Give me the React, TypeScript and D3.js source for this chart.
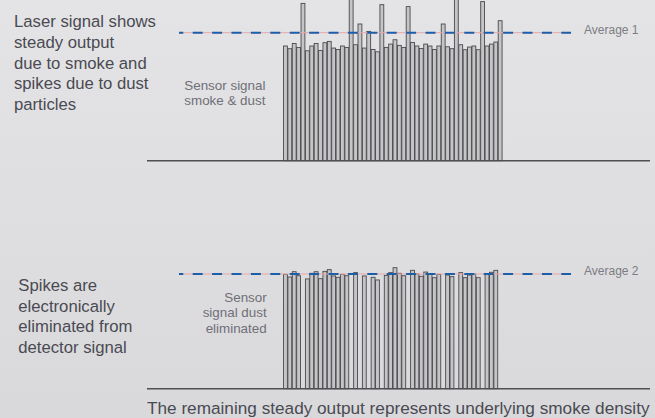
import React from "react";
import * as d3 from "d3";

// Top chart: raw sensor signal (smoke & dust), relative units (Average 1 = 100)
const topValues: number[] = [
  89.6, 87.5, 91.6, 88.5, 122.9, 85.9, 89.6, 91.6, 86.1, 92.2,
  93.2, 88.0, 86.9, 89.6, 88.5, 135, 90.6, 106.8, 88.0, 101,
  86.9, 85.1, 121.9, 88.5, 91.1, 94.5, 90.1, 88.5, 120.4, 92.4,
  89.6, 87.7, 91.1, 89.6, 86.9, 89.6, 106.8, 89.0, 87.5, 135,
  90.6, 86.7, 88.8, 89.6, 86.7, 124.3, 89.6, 91.1, 92.7, 109.4,
];

// Bottom chart: dust eliminated (null = spike removed), relative units (Average 2 = 100)
const bottomValues: (number | null)[] = [
  99.7, 97.4, 102, 98.5, null, 95.7, 100.6, 102, 95.9, 102.3,
  103.8, 98.3, 97.1, 99.7, 98.5, null, 101.2, null, 98.3, null,
  97.1, 94.8, null, 98.8, 101.2, 105.5, 100.6, 98.5, null, 103.2,
  100, 98, 101.7, 100.3, 96.8, 99.7, null, 99.1, 97.7, null,
  101.2, 96.8, 99.1, 100, 96.8, null, 100, 101.5, 103.2, null,
];

const averageLabels = ["Average 1", "Average 2"];
const topLeftText = ["Laser signal shows", "steady output", "due to smoke and", "spikes due to dust", "particles"];
const bottomLeftText = ["Spikes are", "electronically", "eliminated from", "detector signal"];
const topSensorLabel = ["Sensor signal", "smoke & dust"];
const bottomSensorLabel = ["Sensor", "signal dust", "eliminated"];
const caption = "The remaining steady output represents underlying smoke density";

const W = 655;
const H = 418;
const FONT = "'Liberation Sans', Arial, Helvetica, sans-serif";

export default function App() {
  const x = d3
    .scaleBand<number>()
    .domain(d3.range(topValues.length))
    .range([283.3, 502.3])
    .paddingInner(0.12)
    .paddingOuter(0.05);

  const yTop = d3.scaleLinear().domain([0, 100]).range([160.7, 32.7]);
  const yBot = d3.scaleLinear().domain([0, 100]).range([388.7, 274]);

  const axisX0 = 147;
  const axisX1 = 650;
  const lineX0 = 179;
  const lineX1 = 571;

  const barFill = "#c5c5c8";
  const barStroke = "#4a4a4e";

  const panel = (
    values: (number | null)[],
    y: d3.ScaleLinear<number, number>,
    label: string,
    key: string
  ) => (
    <g key={key}>
      {values.map((v, i) =>
        v == null ? null : (
          <rect
            key={i}
            x={x(i)!}
            y={y(v)}
            width={x.bandwidth()}
            height={y(0) - y(v)}
            fill={barFill}
            stroke={barStroke}
            strokeWidth={0.9}
          />
        )
      )}
      <line x1={axisX0} x2={axisX1} y1={y(0)} y2={y(0)} stroke="#4f4f53" strokeWidth={1.6} />
      <line x1={lineX0} x2={lineX1} y1={y(100)} y2={y(100)} stroke="#e7a7a7" strokeWidth={1} />
      <line
        x1={lineX0}
        x2={lineX1}
        y1={y(100)}
        y2={y(100)}
        stroke="#1d5ea8"
        strokeWidth={2}
        strokeDasharray="10 9.4"
        strokeDashoffset={5.7}
      />
      <text x={584} y={y(100) + 0.8} fontSize={12} fill="#7c7c83" fontFamily={FONT}>
        {label}
      </text>
    </g>
  );

  return (
    <svg
      width={W}
      height={H}
      viewBox={`0 0 ${W} ${H}`}
      style={{ position: "fixed", left: 0, top: 0 }}
    >
      <defs>
        <linearGradient id="bg" x1="0" y1="0" x2="0" y2="1">
          <stop offset="0" stopColor="#e4e4e6" />
          <stop offset="1" stopColor="#d9d9dc" />
        </linearGradient>
      </defs>
      <rect x={0} y={0} width={W} height={H} fill="url(#bg)" />

      {panel(topValues, yTop, averageLabels[0], "top")}
      {panel(bottomValues, yBot, averageLabels[1], "bottom")}

      <g fontFamily={FONT} fontSize={16.7} fill="#4a4a52">
        {topLeftText.map((t, i) => (
          <text key={i} x={14} y={27 + i * 20.8}>
            {t}
          </text>
        ))}
        {bottomLeftText.map((t, i) => (
          <text key={i} x={18.3} y={291 + i * 20.6}>
            {t}
          </text>
        ))}
      </g>

      <g fontFamily={FONT} fontSize={13.4} fill="#6f6f77">
        {topSensorLabel.map((t, i) => (
          <text key={i} x={184.3} y={89.5 + i * 15}>
            {t}
          </text>
        ))}
        {bottomSensorLabel.map((t, i) => (
          <text key={i} x={266.7} y={301.5 + i * 15.5} textAnchor="end">
            {t}
          </text>
        ))}
      </g>

      <text x={147} y={413.5} fontFamily={FONT} fontSize={17.2} fill="#4a4a52">
        {caption}
      </text>
    </svg>
  );
}
